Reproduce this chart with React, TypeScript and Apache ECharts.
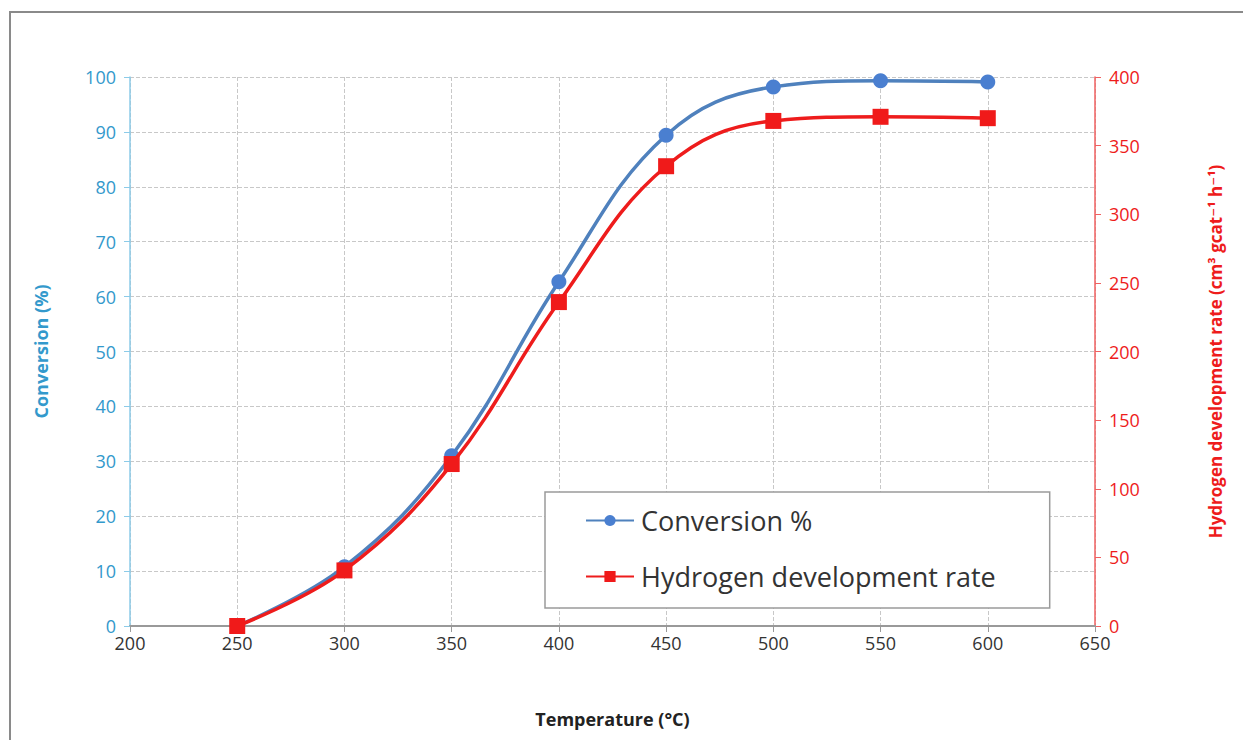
import React, { useEffect, useRef } from "react";
import * as echarts from "echarts";

const temperatures = [250, 300, 350, 400, 450, 500, 550, 600];
const conversion = [0, 10.8, 31, 62.7, 89.4, 98.2, 99.3, 99.1];
const hydrogenRate = [0, 40.5, 118, 236, 335, 368, 371, 370];

const BLUE_TEXT = "#3399cc";
const BLUE_LINE = "#4f81bd";
const RED = "#ee1c1c";

export default function App() {
  const ref = useRef<HTMLDivElement>(null);
  useEffect(() => {
    document.body.style.margin = "0";
    const chart = echarts.init(ref.current!, null, { renderer: "svg" });
    chart.setOption({
      animation: false,
      backgroundColor: "#ffffff",
      textStyle: { fontFamily: "Open Sans, DejaVu Sans, sans-serif" },
      graphic: [
        {
          type: "polyline",
          shape: { points: [[10, 740], [10, 12], [1243, 12]] },
          style: { stroke: "#8a8a8a", lineWidth: 2, fill: "none" },
        },
      ],
      grid: { left: 130, right: 148, top: 77, bottom: 114 },
      legend: {
        orient: "vertical",
        left: 545,
        top: 492,
        backgroundColor: "#ffffff",
        borderColor: "#9a9a9a",
        borderWidth: 1.5,
        padding: [15, 54, 18, 40],
        itemGap: 29,
        itemWidth: 48,
        itemHeight: 14,
        textStyle: { fontSize: 27, color: "#333333", padding: [0, 0, 0, 2] },
        data: ["Conversion %", "Hydrogen development rate"],
      },
      xAxis: {
        type: "value",
        min: 200,
        max: 650,
        interval: 50,
        name: "Temperature (°C)",
        nameLocation: "middle",
        nameGap: 84,
        nameTextStyle: { fontSize: 18, fontWeight: "bold", color: "#222222" },
        axisLine: { lineStyle: { color: "#999999", width: 2 } },
        axisTick: { show: true, inside: false, length: 6, lineStyle: { color: "#999999" } },
        axisLabel: { fontSize: 18, color: "#333333", margin: 8 },
        splitLine: { show: true, lineStyle: { type: "dashed", color: "#c8c8c8", width: 1 } },
      },
      yAxis: [
        {
          type: "value",
          min: 0,
          max: 100,
          interval: 10,
          name: "Conversion (%)",
          nameLocation: "middle",
          nameGap: 80,
          nameRotate: 90,
          nameTextStyle: { fontSize: 18, fontWeight: "bold", color: BLUE_TEXT },
          axisLine: { show: true, lineStyle: { color: "#8ccbe8", width: 1.5 } },
          axisTick: { show: true, length: 6, lineStyle: { color: "#8ccbe8" } },
          axisLabel: { fontSize: 18, color: BLUE_TEXT, margin: 14 },
          splitLine: { show: true, lineStyle: { type: "dashed", color: "#c8c8c8", width: 1 } },
        },
        {
          type: "value",
          min: 0,
          max: 400,
          interval: 50,
          name: "Hydrogen development rate (cm³ gcat⁻¹ h⁻¹)",
          nameLocation: "middle",
          nameGap: 112,
          nameRotate: 90,
          nameTextStyle: { fontSize: 17, fontWeight: "bold", color: RED },
          position: "right",
          axisLine: { show: true, lineStyle: { color: "#f06060", width: 1.5 } },
          axisTick: { show: true, length: 6, lineStyle: { color: "#f06060" } },
          axisLabel: { fontSize: 18, color: RED, margin: 14 },
          splitLine: { show: false },
        },
      ],
      series: [
        {
          name: "Conversion %",
          type: "line",
          yAxisIndex: 0,
          smooth: 0.4,
          data: temperatures.map((t, i) => [t, conversion[i]]),
          symbol: "circle",
          symbolSize: 15,
          itemStyle: { color: "#4a7fd0" },
          lineStyle: { color: BLUE_LINE, width: 3.5 },
          z: 3,
        },
        {
          name: "Hydrogen development rate",
          type: "line",
          yAxisIndex: 1,
          smooth: 0.4,
          data: temperatures.map((t, i) => [t, hydrogenRate[i]]),
          symbol: "rect",
          symbolSize: 16,
          itemStyle: { color: "#f01a1a" },
          lineStyle: { color: RED, width: 3.5 },
          z: 4,
        },
      ],
    });
    return () => chart.dispose();
  }, []);
  return (
    <div
      ref={ref}
      style={{ position: "absolute", left: 0, top: 0, width: 1243, height: 740 }}
    />
  );
}
